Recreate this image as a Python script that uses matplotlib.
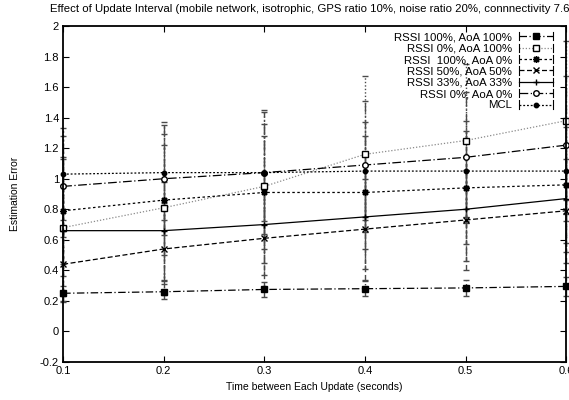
import numpy as np
import matplotlib.pyplot as plt
from matplotlib.lines import Line2D
from matplotlib.legend_handler import HandlerBase

plt.rcParams['font.family'] = ['Liberation Sans', 'DejaVu Sans']

interval = [0.1, 0.2, 0.3, 0.4, 0.5, 0.6]

labels = ['RSSI 100%, AoA 100%', 'RSSI 0%, AoA 100%', 'RSSI  100%, AoA 0%',
          'RSSI 50%, AoA 50%', 'RSSI 33%, AoA 33%', 'RSSI 0%, AoA 0%', 'MCL']

err_rssi100_aoa100 = [0.25, 0.26, 0.275, 0.28, 0.285, 0.295]
err_rssi0_aoa100 = [0.68, 0.81, 0.95, 1.16, 1.25, 1.38]
err_rssi100_aoa0 = [0.79, 0.86, 0.91, 0.91, 0.94, 0.96]
err_rssi50_aoa50 = [0.44, 0.54, 0.61, 0.67, 0.73, 0.79]
err_rssi33_aoa33 = [0.66, 0.66, 0.70, 0.75, 0.80, 0.87]
err_rssi0_aoa0 = [0.95, 1.00, 1.04, 1.09, 1.14, 1.22]
err_mcl = [1.03, 1.04, 1.04, 1.05, 1.05, 1.05]

# standard deviations shown as error bars
sd_rssi100_aoa100 = [0.05, 0.05, 0.05, 0.05, 0.05, 0.06]
sd_rssi0_aoa100 = [0.45, 0.48, 0.50, 0.51, 0.50, 0.52]
sd_rssi100_aoa0 = [0.35, 0.36, 0.37, 0.37, 0.37, 0.38]
sd_rssi50_aoa50 = [0.25, 0.30, 0.32, 0.33, 0.33, 0.34]
sd_rssi33_aoa33 = [0.30, 0.32, 0.33, 0.34, 0.34, 0.35]
sd_rssi0_aoa0 = [0.33, 0.37, 0.40, 0.42, 0.43, 0.45]
sd_mcl = [0.30, 0.31, 0.32, 0.32, 0.33, 0.33]

means = [err_rssi100_aoa100, err_rssi0_aoa100, err_rssi100_aoa0, err_rssi50_aoa50,
         err_rssi33_aoa33, err_rssi0_aoa0, err_mcl]
sds = [sd_rssi100_aoa100, sd_rssi0_aoa100, sd_rssi100_aoa0, sd_rssi50_aoa50,
       sd_rssi33_aoa33, sd_rssi0_aoa0, sd_mcl]

# gnuplot-like line types
styles = [
    dict(color='black', ls=(0, (6, 2, 1, 2)), marker='s', ms=4.5, mfc='black'),
    dict(color='#8a8a8a', ls=(0, (1, 1.5)), marker='s', ms=4.5, mfc='white', mec='black'),
    dict(color='black', ls=(0, (2, 2)), marker=(8, 2, 0), ms=5, mfc='black'),
    dict(color='black', ls=(0, (4, 2)), marker='x', ms=4, mfc='black'),
    dict(color='black', ls='-', marker='+', ms=5, mfc='black'),
    dict(color='black', ls=(0, (7, 2, 1, 2)), marker='o', ms=4, mfc='white', mec='black'),
    dict(color='black', ls=(0, (1.5, 1.5)), marker='o', ms=3.2, mfc='black'),
]


class HandlerCapped(HandlerBase):
    # legend sample with small end ticks, as in gnuplot errorbar keys
    def create_artists(self, legend, orig, xd, yd, w, h, fontsize, trans):
        st = orig.st
        y = h / 2 - yd
        x0, x1 = -xd, w - xd
        line = Line2D([x0, x1], [y, y], color=st['color'], ls=st['ls'], lw=0.9)
        caps = [Line2D([x, x], [y - 3, y + 3], color='black', lw=0.8) for x in (x0, x1)]
        mk = Line2D([(x0 + x1) / 2], [y], marker=st['marker'], ms=st['ms'],
                    mfc=st.get('mfc', 'black'), mec=st.get('mec', 'black'), ls='none')
        arts = [line] + caps + [mk]
        for a in arts:
            a.set_transform(trans)
        return arts


fig = plt.figure(figsize=(5.69, 4.0), dpi=100)
ax = fig.add_axes([0.111, 0.095, 0.884, 0.84])

handles = []
for lab, m, s, st in zip(labels, means, sds, styles):
    eb = ax.errorbar(interval, m, yerr=s, color=st['color'], ls=st['ls'], lw=0.9,
                     marker=st['marker'], ms=st['ms'], mfc=st.get('mfc', 'black'),
                     mec=st.get('mec', 'black'), mew=1.0, ecolor='#4a4a4a',
                     elinewidth=1.0, capsize=2.5, capthick=0.8, clip_on=False)
    for bl in eb[2]:
        bl.set_linestyle(st['ls'] if st['ls'] != '-' else (0, (3, 1)))
    h = Line2D([], [])
    h.st = st
    handles.append(h)

ax.set_xlim(0.1, 0.6)
ax.set_ylim(-0.2, 2.0)
ax.set_xticks(interval)
ax.set_xticklabels(['0.1', '0.2', '0.3', '0.4', '0.5', '0.6'])
ax.set_yticks(np.arange(-0.2, 2.01, 0.2))
ax.set_yticklabels(['-0.2', '0', '0.2', '0.4', '0.6', '0.8', '1', '1.2', '1.4', '1.6', '1.8', '2'])
ax.tick_params(direction='in', top=True, right=True, labelsize=8, length=4, width=0.8, pad=3)
for sp in ax.spines.values():
    sp.set_linewidth(1.3)

ax.set_title('Effect of Update Interval (mobile network, isotrophic, GPS ratio 10%, '
             'noise ratio 20%, connnectivity 7.66)', fontsize=8.2, pad=10)
ax.set_xlabel('Time between Each Update (seconds)', fontsize=7.5, labelpad=4)
ax.set_ylabel('Estimation Error', fontsize=7.5, labelpad=14)

ax.legend(handles, labels, loc='upper right', bbox_to_anchor=(0.99, 1.005),
          frameon=False, markerfirst=False, fontsize=8.2, labelspacing=0.12,
          handlelength=3.0, handletextpad=0.6, borderpad=0.2,
          handler_map={Line2D: HandlerCapped()})

fig.savefig('out.png', dpi=100)
